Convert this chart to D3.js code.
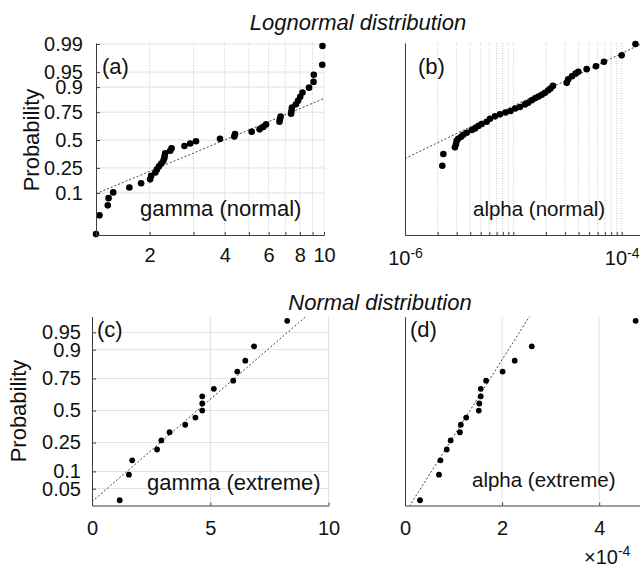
<!DOCTYPE html>
<html>
<head>
<meta charset="utf-8">
<script src="https://cdn.jsdelivr.net/npm/d3@7"></script>
<style>
  body { margin: 0; background: #fff; }
  svg { display: block; font-family: "Liberation Sans", Arial, sans-serif; }
  .axis path, .axis line { stroke: #3c3c3c; stroke-width: 1; }
  .axis text { fill: #111; font-size: 20px; font-family: "Liberation Sans", Arial, sans-serif; }
</style>
</head>
<body>
<svg id="fig" width="640" height="568"></svg>
<script>
// ---- gamma estimates, lognormal fit (normal runs), sorted
const gammaNormal = [1.22, 1.26, 1.36, 1.37, 1.43, 1.66, 1.85, 2.01, 2.03, 2.11,
  2.14, 2.18, 2.23, 2.27, 2.29, 2.30, 2.31, 2.42, 2.45, 2.76,
  2.91, 3.07, 3.83, 4.37, 4.40, 5.13, 5.52, 5.71, 5.86, 6.63,
  6.66, 6.70, 7.38, 7.41, 7.44, 7.72, 7.87, 8.03, 8.20, 8.71,
  9.08, 9.10, 9.84, 9.86];

// ---- alpha estimates (normal runs) inside the plotted range, with their plotting probabilities
const alphaNormal = [2.21e-6, 2.26e-6, 2.89e-6, 2.96e-6, 3.00e-6, 3.10e-6, 3.29e-6, 3.45e-6, 3.71e-6, 4.13e-6,
  4.43e-6, 4.75e-6, 5.10e-6, 5.68e-6, 6.09e-6, 6.77e-6, 7.53e-6, 8.46e-6, 9.41e-6, 1.04e-5,
  1.15e-5, 1.28e-5, 1.37e-5, 1.48e-5, 1.60e-5, 1.71e-5, 1.83e-5, 1.96e-5, 2.10e-5, 2.20e-5,
  2.32e-5, 3.11e-5, 3.21e-5, 3.48e-5, 3.75e-5, 3.98e-5, 4.75e-5, 5.79e-5, 6.86e-5, 1.00e-4, 1.34e-4];
const alphaNormalProb = [0.267, 0.367, 0.430, 0.461, 0.493, 0.513, 0.532, 0.551, 0.570, 0.596,
  0.611, 0.633, 0.651, 0.671, 0.697, 0.717, 0.733, 0.747, 0.759, 0.777,
  0.788, 0.806, 0.817, 0.832, 0.845, 0.854, 0.864, 0.874, 0.886, 0.894,
  0.905, 0.917, 0.929, 0.939, 0.946, 0.951, 0.957, 0.963, 0.971, 0.980, 0.990];
// reference line of the full alpha sample: [alpha, probability] at two points
const alphaNormalRef = [[1e-6, 0.327], [1e-4, 0.982]];

// ---- extreme runs, sorted
const gammaExtreme = [1.17, 1.56, 1.70, 2.75, 2.93, 3.28, 3.94, 4.37, 4.66, 4.66,
  4.66, 5.15, 5.97, 6.14, 6.48, 6.85, 8.25];
const alphaExtreme = [0.31e-4, 0.70e-4, 0.73e-4, 0.86e-4, 0.94e-4, 1.13e-4, 1.15e-4, 1.26e-4, 1.52e-4, 1.53e-4,
  1.56e-4, 1.56e-4, 1.67e-4, 2.01e-4, 2.26e-4, 2.61e-4, 4.75e-4];

// ---- tick labels
const probTicksLog = [0.1, 0.25, 0.5, 0.75, 0.9, 0.95, 0.99];
const probTicksNorm = [0.05, 0.1, 0.25, 0.5, 0.75, 0.9, 0.95];
const gammaNormalTicks = [2, 4, 6, 8, 10];
const alphaNormalTicks = [1e-6, 1e-4];
const gammaExtremeTicks = [0, 5, 10];
const alphaExtremeTicks = [0, 2e-4, 4e-4];

// inverse standard normal CDF (Acklam)
function probit(p) {
  const a = [-3.969683028665376e+01, 2.209460984245205e+02, -2.759285104469687e+02, 1.383577518672690e+02, -3.066479806614716e+01, 2.506628277459239e+00];
  const b = [-5.447609879822406e+01, 1.615858368580409e+02, -1.556989798598866e+02, 6.680131188771972e+01, -1.328068155288572e+01];
  const c = [-7.784894002430293e-03, -3.223964580411365e-01, -2.400758277161838e+00, -2.549671010086433e+00, 4.374664141464968e+00, 2.938163982698783e+00];
  const d = [7.784695709041462e-03, 3.224671290700398e-01, 2.445134137142996e+00, 3.754408661907416e+00];
  const pl = 0.02425;
  let q, r;
  if (p < pl) {
    q = Math.sqrt(-2 * Math.log(p));
    return (((((c[0]*q+c[1])*q+c[2])*q+c[3])*q+c[4])*q+c[5]) / ((((d[0]*q+d[1])*q+d[2])*q+d[3])*q+1);
  }
  if (p <= 1 - pl) {
    q = p - 0.5; r = q * q;
    return (((((a[0]*r+a[1])*r+a[2])*r+a[3])*r+a[4])*r+a[5])*q / (((((b[0]*r+b[1])*r+b[2])*r+b[3])*r+b[4])*r+1);
  }
  q = Math.sqrt(-2 * Math.log(1 - p));
  return -(((((c[0]*q+c[1])*q+c[2])*q+c[3])*q+c[4])*q+c[5]) / ((((d[0]*q+d[1])*q+d[2])*q+d[3])*q+1);
}

// percentile with (i-0.5)/n plotting positions
function prctile(sorted, f) {
  const n = sorted.length, pos = n * f + 0.5;
  if (pos <= 1) return sorted[0];
  if (pos >= n) return sorted[n - 1];
  const i = Math.floor(pos);
  return sorted[i - 1] + (pos - i) * (sorted[i] - sorted[i - 1]);
}

// quartile-based reference line: returns [[x, p], [x, p]]
function quartileLine(sorted) {
  return [[prctile(sorted, 0.25), 0.25], [prctile(sorted, 0.75), 0.75]];
}

const svg = d3.select("#fig");
let clipId = 0;

function drawPanel(o) {
  const g = svg.append("g");
  const x = (o.log ? d3.scaleLog() : d3.scaleLinear()).domain(o.xDomain).range([o.left, o.right]);
  const y = d3.scaleLinear().domain(o.zDomain).range([o.bottom, o.top]);
  const yp = p => y(probit(p));
  const H = o.bottom - o.top, W = o.right - o.left;

  // grid
  const grid = g.append("g");
  if (o.hGrid) {
    grid.selectAll("line.h").data(o.yTicks).join("line")
      .attr("x1", o.left).attr("x2", o.right)
      .attr("y1", d => yp(d)).attr("y2", d => yp(d))
      .attr("stroke", "#e2e2e2").attr("stroke-width", 1);
  }
  const vTicks = o.log ? x.ticks() : o.vGrid;
  if (vTicks) {
    grid.selectAll("line.v").data(vTicks).join("line")
      .attr("x1", d => x(d)).attr("x2", d => x(d))
      .attr("y1", o.top).attr("y2", o.bottom)
      .attr("stroke", o.log ? "#c8c8c8" : "#e2e2e2")
      .attr("stroke-dasharray", o.log ? "1,1.5" : null)
      .attr("stroke-width", 1);
  }

  // reference line, extended across the panel
  const id = "clip" + (clipId++);
  g.append("clipPath").attr("id", id).append("rect")
    .attr("x", o.left).attr("y", o.top).attr("width", W).attr("height", H);
  const t = v => o.log ? Math.log(v) : v;
  const [[xa, pa], [xb, pb]] = o.ref;
  const slope = (probit(pb) - probit(pa)) / (t(xb) - t(xa));
  const zAt = v => probit(pa) + (t(v) - t(xa)) * slope;
  const xs = o.xDomain;
  g.append("line").attr("clip-path", `url(#${id})`)
    .attr("x1", x(xs[0])).attr("y1", y(zAt(xs[0])))
    .attr("x2", x(xs[1])).attr("y2", y(zAt(xs[1])))
    .attr("stroke", "#444").attr("stroke-width", 1).attr("stroke-dasharray", "2,2");

  // points
  const probs = o.probs || o.values.map((_, i) => (i + 0.5) / o.values.length);
  g.append("g").selectAll("circle").data(o.values).join("circle")
    .attr("cx", d => x(d)).attr("cy", (d, i) => yp(probs[i]))
    .attr("r", o.r).attr("fill", "#000");

  // bottom axis: ticks
  const tickVals = o.log ? x.ticks() : o.xTicks;
  g.append("g").attr("class", "axis").attr("transform", `translate(0,${o.bottom})`)
    .call(d3.axisBottom(x).tickValues(tickVals).tickSizeInner(-3).tickSizeOuter(0).tickFormat(() => ""));
  // bottom axis: labels
  const lab = g.append("g").attr("class", "axis").attr("transform", `translate(0,${o.bottom})`)
    .call(d3.axisBottom(x).tickValues(o.xTicks).tickSize(0).tickPadding(o.xPad).tickFormat(o.xFormat || (d => d)));
  lab.select(".domain").remove();
  if (o.superscript) {
    lab.selectAll(".tick text").each(function (d) {
      const s = d3.select(this).text(null);
      s.append("tspan").text("10");
      s.append("tspan").attr("dy", "-0.55em").attr("font-size", "14px").text(Math.round(Math.log10(d)));
    });
  }

  // left axis
  const ya = g.append("g").attr("class", "axis").attr("transform", `translate(${o.left},0)`);
  if (o.yLabels) {
    ya.call(d3.axisLeft(y).tickValues(o.yTicks.map(probit)).tickSizeInner(-4).tickSizeOuter(0)
      .tickPadding(o.yPad).tickFormat((d, i) => o.yTicks[i]));
  } else {
    ya.call(d3.axisLeft(y).tickValues([]).tickSizeOuter(0));
  }
  return g;
}

function text(x, y, s, size, opts = {}) {
  const el = svg.append("text").attr("x", x).attr("y", y).attr("font-size", size + "px")
    .attr("fill", "#111").text(s);
  if (opts.anchor) el.attr("text-anchor", opts.anchor);
  if (opts.italic) el.attr("font-style", "italic");
  if (opts.rotate) el.attr("transform", `rotate(-90,${x},${y})`);
  return el;
}

// (a) gamma, lognormal
drawPanel({
  log: true, xDomain: [1.22, 10], zDomain: [-2.30, 2.35],
  left: 96, right: 324, top: 43, bottom: 235,
  values: gammaNormal, ref: quartileLine(gammaNormal),
  xTicks: gammaNormalTicks, xPad: 13,
  yTicks: probTicksLog, yLabels: true, yPad: 13, hGrid: true, r: 3.3
});
// (b) alpha, lognormal
drawPanel({
  log: true, xDomain: [1e-6, 1.476e-4], zDomain: [-2.30, 2.35],
  left: 405, right: 640, top: 43, bottom: 235,
  values: alphaNormal, probs: alphaNormalProb, ref: alphaNormalRef,
  xTicks: alphaNormalTicks, xPad: 16, superscript: true,
  yTicks: probTicksLog, yLabels: false, hGrid: false, r: 3.3
});
// (c) gamma, normal
drawPanel({
  log: false, xDomain: [0, 10], zDomain: [-2.0, 1.98],
  left: 92, right: 328.6, top: 316.5, bottom: 505.5,
  values: gammaExtreme, ref: quartileLine(gammaExtreme),
  xTicks: gammaExtremeTicks, vGrid: [5, 10], xPad: 15,
  yTicks: probTicksNorm, yLabels: true, yPad: 11, hGrid: true, r: 2.9
});
// (d) alpha, normal
drawPanel({
  log: false, xDomain: [0, 4.84e-4], zDomain: [-2.0, 1.98],
  left: 405, right: 640, top: 316.5, bottom: 505.5,
  values: alphaExtreme, ref: quartileLine(alphaExtreme),
  xTicks: alphaExtremeTicks, vGrid: [2e-4, 4e-4], xPad: 15, xFormat: d => Math.round(d / 1e-4),
  yTicks: probTicksNorm, yLabels: false, hGrid: false, r: 2.9
});

// titles and labels
text(358, 29.5, "Lognormal distribution", 22, { anchor: "middle", italic: true });
text(380, 310, "Normal distribution", 22, { anchor: "middle", italic: true });
text(38.5, 140, "Probability", 22, { anchor: "middle", rotate: true });
text(26, 411, "Probability", 22, { anchor: "middle", rotate: true });
text(102, 74, "(a)", 22);
text(418, 74, "(b)", 22);
text(97, 337, "(c)", 22);
text(410, 337, "(d)", 22);
text(140, 216, "gamma (normal)", 22);
text(473, 216, "alpha (normal)", 20.5);
text(147, 490, "gamma (extreme)", 22);
text(472, 487, "alpha (extreme)", 20.5);
const mult = text(584, 564, "\u00d710", 20);
mult.append("tspan").attr("dy", "-0.55em").attr("font-size", "14px").text("-4");
</script>
</body>
</html>
